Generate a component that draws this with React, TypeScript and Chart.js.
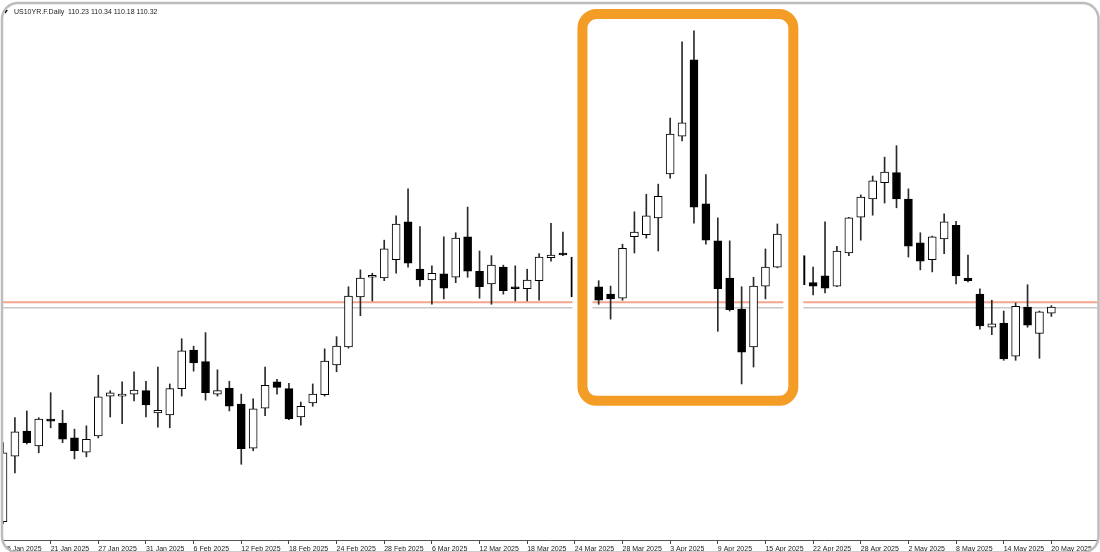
import { useEffect, useRef } from "react";
import { Chart, registerables } from "chart.js";

Chart.register(...registerables);

const SYMBOL = "US10YR.F.Daily";

const DATES: string[] = [
  "15 Jan 2025", "16 Jan 2025", "17 Jan 2025", "20 Jan 2025", "21 Jan 2025", "22 Jan 2025", "23 Jan 2025", "24 Jan 2025",
  "27 Jan 2025", "28 Jan 2025", "29 Jan 2025", "30 Jan 2025", "31 Jan 2025",
  "3 Feb 2025", "4 Feb 2025", "5 Feb 2025", "6 Feb 2025", "7 Feb 2025", "10 Feb 2025", "11 Feb 2025", "12 Feb 2025",
  "13 Feb 2025", "14 Feb 2025", "17 Feb 2025", "18 Feb 2025", "19 Feb 2025", "20 Feb 2025", "21 Feb 2025", "24 Feb 2025",
  "25 Feb 2025", "26 Feb 2025", "27 Feb 2025", "28 Feb 2025",
  "3 Mar 2025", "4 Mar 2025", "5 Mar 2025", "6 Mar 2025", "7 Mar 2025", "10 Mar 2025", "11 Mar 2025", "12 Mar 2025",
  "13 Mar 2025", "14 Mar 2025", "17 Mar 2025", "18 Mar 2025", "19 Mar 2025", "20 Mar 2025", "21 Mar 2025", "24 Mar 2025",
  "25 Mar 2025", "26 Mar 2025", "27 Mar 2025", "28 Mar 2025", "31 Mar 2025",
  "1 Apr 2025", "2 Apr 2025", "3 Apr 2025", "4 Apr 2025", "7 Apr 2025", "8 Apr 2025", "9 Apr 2025", "10 Apr 2025",
  "11 Apr 2025", "14 Apr 2025", "15 Apr 2025", "16 Apr 2025", "17 Apr 2025", "21 Apr 2025", "22 Apr 2025", "23 Apr 2025",
  "24 Apr 2025", "25 Apr 2025", "28 Apr 2025", "29 Apr 2025", "30 Apr 2025",
  "1 May 2025", "2 May 2025", "5 May 2025", "6 May 2025", "7 May 2025", "8 May 2025", "9 May 2025", "12 May 2025",
  "13 May 2025", "14 May 2025", "15 May 2025", "16 May 2025", "19 May 2025", "20 May 2025",
];

// null = candle hidden behind the highlight frame
const OPEN: (number | null)[] = [
  107.14, 108.11, 108.48, 108.26, 108.66, 108.60, 108.38, 108.17, 108.41, 109.00,
  109.00, 109.03, 109.08, 108.75, 108.72, 109.11, 109.68, 109.51, 109.03, 109.12,
  108.88, 108.23, 108.82, 109.21, 109.11, 108.69, 108.90, 109.02, 109.46, 109.73,
  110.47, 110.76, 110.75, 111.02, 111.58, 110.88, 110.72, 110.81, 110.76, 111.36,
  110.85, 110.66, 110.91, 110.60, 110.59, 110.71, 111.05, 111.12, 111.06, null,
  110.62, 110.51, 110.45, 111.36, 111.39, 111.64, 112.29, 112.85, 113.98, 111.85,
  111.30, 110.75, 110.29, 109.73, 110.63, 110.91, null, 111.08, 110.68, 110.78,
  110.63, 111.12, 111.65, 111.92, 112.16, 112.31, 111.92, 111.27, 111.02, 111.33,
  111.53, 110.75, 110.51, 110.02, 110.08, 109.59, 110.32, 109.93, 110.23,
];
const HIGH: (number | null)[] = [
  108.31, 108.68, 108.78, 108.68, 109.05, 108.79, 108.51, 108.56, 109.31, 109.08,
  109.21, 109.36, 109.22, 109.43, 109.18, 109.85, 109.74, 109.94, 109.39, 109.22,
  109.03, 108.96, 109.43, 109.25, 109.19, 108.91, 109.18, 109.70, 109.88, 110.62,
  110.87, 110.82, 111.31, 111.67, 112.07, 111.51, 110.93, 111.36, 111.42, 111.80,
  111.15, 111.08, 110.94, 110.93, 110.88, 111.11, 111.56, 111.43, 111.09, null,
  110.71, 110.63, 111.25, 111.73, 111.99, 112.14, 113.12, 114.25, 114.41, 112.28,
  111.64, 111.30, 110.62, 110.76, 111.18, 111.55, null, 111.15, 110.91, 111.58,
  111.22, 111.65, 111.98, 112.26, 112.54, 112.71, 112.07, 111.42, 111.37, 111.70,
  111.59, 111.09, 110.59, 110.42, 110.26, 110.38, 110.65, 110.26, 110.34,
];
const LOW: (number | null)[] = [
  107.11, 107.86, 108.29, 108.16, 108.53, 108.31, 108.07, 108.10, 108.38, 108.69,
  108.59, 108.93, 108.69, 108.54, 108.53, 109.00, 109.37, 108.94, 109.00, 108.78,
  107.99, 108.19, 108.71, 109.03, 108.65, 108.57, 108.85, 109.00, 109.36, 109.71,
  110.19, 110.41, 110.71, 110.82, 110.91, 110.63, 110.36, 110.44, 110.68, 110.76,
  110.45, 110.36, 110.51, 110.41, 110.41, 110.42, 111.00, 111.08, 110.42, null,
  110.36, 110.14, 110.42, 111.12, 111.34, 111.15, 112.23, 112.78, 111.56, 111.25,
  109.96, 110.26, 109.18, 109.43, 110.44, 110.90, null, 110.60, 110.50, 110.53,
  110.62, 111.08, 111.31, 111.68, 111.86, 111.79, 111.06, 110.87, 110.84, 111.11,
  110.66, 110.69, 109.99, 109.91, 109.53, 109.53, 110.02, 109.56, 110.18,
];
const CLOSE: (number | null)[] = [
  108.16, 108.47, 108.31, 108.66, 108.63, 108.36, 108.19, 108.36, 108.99, 109.05,
  109.03, 109.09, 108.87, 108.79, 109.11, 109.67, 109.49, 109.05, 109.08, 108.85,
  108.22, 108.81, 109.16, 109.13, 108.66, 108.85, 109.03, 109.52, 109.74, 110.48,
  110.75, 110.78, 111.18, 111.55, 110.97, 110.72, 110.82, 110.60, 111.34, 110.85,
  110.62, 110.94, 110.56, 110.59, 110.72, 111.06, 111.09, 111.09, 110.47, null,
  110.42, 110.44, 111.19, 111.43, 111.67, 111.96, 112.88, 113.05, 111.80, 111.31,
  110.59, 110.28, 109.65, 110.63, 110.91, 111.40, null, 110.65, 110.63, 110.60,
  111.15, 111.64, 111.95, 112.19, 112.32, 111.92, 111.22, 111.00, 111.36, 111.58,
  110.78, 110.71, 110.04, 110.07, 109.55, 110.33, 110.05, 110.25, 110.32,
];

// horizontal price lines (ask / bid)
const ASK_LINE = 110.39;
const BID_LINE = 110.31;

// highlighted period (index range and price range of the frame's centre line)
const HIGHLIGHT_FROM = 48.64;
const HIGHLIGHT_TO = 66.34;
const HIGHLIGHT_TOP = 114.66;
const HIGHLIGHT_BOTTOM = 108.93;

// axis ranges
const X_MIN = 0;
const X_MAX = 91.83;
const Y_MIN = 106.868;
const Y_MAX = 114.794;
const TICK_EVERY = 4;

const FONT = '"Liberation Sans", Arial, sans-serif';

function roundRectPath(ctx: CanvasRenderingContext2D, x: number, y: number, w: number, h: number, r: number) {
  ctx.moveTo(x + r, y);
  ctx.lineTo(x + w - r, y);
  ctx.arcTo(x + w, y, x + w, y + r, r);
  ctx.lineTo(x + w, y + h - r);
  ctx.arcTo(x + w, y + h, x + w - r, y + h, r);
  ctx.lineTo(x + r, y + h);
  ctx.arcTo(x, y + h, x, y + h - r, r);
  ctx.lineTo(x, y + r);
  ctx.arcTo(x, y, x + r, y, r);
  ctx.closePath();
}

const overlayPlugin = {
  id: "mtOverlay",
  beforeDatasetsDraw(chart: any) {
    const { ctx, chartArea, scales } = chart;
    const yS = scales.y;
    ctx.save();
    const ya = yS.getPixelForValue(ASK_LINE);
    ctx.strokeStyle = "#F3A58F";
    ctx.lineWidth = 2;
    ctx.beginPath();
    ctx.moveTo(chartArea.left, ya);
    ctx.lineTo(chartArea.right, ya);
    ctx.stroke();
    const yb = yS.getPixelForValue(BID_LINE);
    ctx.strokeStyle = "#C8C8C8";
    ctx.lineWidth = 1.5;
    ctx.beginPath();
    ctx.moveTo(chartArea.left, yb);
    ctx.lineTo(chartArea.right, yb);
    ctx.stroke();
    ctx.restore();
  },
  afterDatasetsDraw(chart: any) {
    const { ctx, scales } = chart;
    const x1 = scales.x.getPixelForValue(HIGHLIGHT_FROM);
    const x2 = scales.x.getPixelForValue(HIGHLIGHT_TO);
    const y1 = scales.y.getPixelForValue(HIGHLIGHT_TOP);
    const y2 = scales.y.getPixelForValue(HIGHLIGHT_BOTTOM);
    ctx.save();
    ctx.beginPath();
    roundRectPath(ctx, x1, y1, x2 - x1, y2 - y1, 14);
    ctx.strokeStyle = "#ffffff";
    ctx.lineWidth = 20;
    ctx.stroke();
    ctx.strokeStyle = "#F39C26";
    ctx.lineWidth = 10;
    ctx.stroke();
    ctx.restore();
  },
  afterDraw(chart: any) {
    const { ctx, width, height } = chart;
    ctx.save();
    // header
    ctx.fillStyle = "#111";
    ctx.beginPath();
    ctx.moveTo(3, 10);
    ctx.lineTo(8, 10);
    ctx.lineTo(5.5, 13.5);
    ctx.closePath();
    ctx.fill();
    const last = OPEN.length - 1;
    const fmt = (v: number | null) => (v === null ? "" : v.toFixed(2));
    ctx.font = `7px ${FONT}`;
    ctx.textBaseline = "middle";
    ctx.fillStyle = "#222";
    ctx.fillText(
      `${SYMBOL}  ${fmt(OPEN[last])} ${fmt(HIGH[last])} ${fmt(LOW[last])} ${fmt(CLOSE[last])}`,
      14,
      12.5
    );
    // rounded outer frame
    ctx.beginPath();
    ctx.rect(0, 0, width, height);
    roundRectPath(ctx, 2, 3, 1096.5, 549.5, 16);
    ctx.fillStyle = "#ffffff";
    ctx.fill("evenodd");
    ctx.beginPath();
    roundRectPath(ctx, 2, 3, 1096.5, 549.5, 16);
    ctx.strokeStyle = "#BDBDBD";
    ctx.lineWidth = 2.5;
    ctx.stroke();
    ctx.restore();
  },
};

export default function App() {
  const canvasRef = useRef<HTMLCanvasElement | null>(null);

  useEffect(() => {
    const canvas = canvasRef.current;
    if (!canvas) return;

    const candles = DATES.map((d, i) => ({ i, d, o: OPEN[i], h: HIGH[i], l: LOW[i], c: CLOSE[i] })).filter(
      (k) => k.o !== null && k.c !== null && k.h !== null && k.l !== null
    ) as { i: number; d: string; o: number; h: number; l: number; c: number }[];

    const bodyData = candles.map((k) => ({ x: k.i, y: [k.o, k.c] }));
    const wickData = candles.map((k) => ({ x: k.i, y: [k.l, k.h] }));
    const bodyFill = candles.map((k) => (k.c >= k.o ? "#ffffff" : "#000000"));

    const chart = new Chart(canvas, {
      type: "bar",
      data: {
        datasets: [
          {
            label: "Body",
            data: bodyData as any,
            backgroundColor: bodyFill,
            borderColor: "#000000",
            borderWidth: 1,
            borderSkipped: false,
            barThickness: 8,
            minBarLength: 2,
            grouped: false,
            order: 1,
          } as any,
          {
            label: "Wick",
            data: wickData as any,
            backgroundColor: "#2a2a2a",
            borderWidth: 0,
            barThickness: 1,
            grouped: false,
            order: 2,
          } as any,
        ],
      },
      options: {
        animation: false,
        responsive: false,
        events: [],
        layout: { padding: { left: 3, right: 3, top: 5, bottom: 0 } },
        plugins: { legend: { display: false }, tooltip: { enabled: false }, title: { display: false } },
        scales: {
          x: {
            type: "linear",
            min: X_MIN,
            max: X_MAX,
            offset: false,
            afterBuildTicks: (scale: any) => {
              scale.ticks = DATES.map((_, i) => i)
                .filter((i) => i % TICK_EVERY === 0)
                .map((v) => ({ value: v }));
            },
            afterFit: (scale: any) => {
              scale.height = 12;
            },
            ticks: {
              autoSkip: false,
              maxRotation: 0,
              minRotation: 0,
              align: "start",
              padding: 1,
              color: "#222",
              font: { family: FONT, size: 7 },
              callback: (v: any) => DATES[Number(v)] ?? "",
            },
            grid: { drawOnChartArea: false, drawTicks: true, tickLength: 4, color: "#444", offset: false },
            border: { display: true, color: "#555", width: 1 },
          } as any,
          y: {
            display: false,
            min: Y_MIN,
            max: Y_MAX,
            beginAtZero: false,
          },
        },
      },
      plugins: [overlayPlugin],
    });

    return () => chart.destroy();
  }, []);

  return (
    <div style={{ position: "fixed", left: 0, top: 0, width: 1100, height: 552, background: "#fff" }}>
      <canvas ref={canvasRef} width={1100} height={552} style={{ display: "block" }} />
    </div>
  );
}
